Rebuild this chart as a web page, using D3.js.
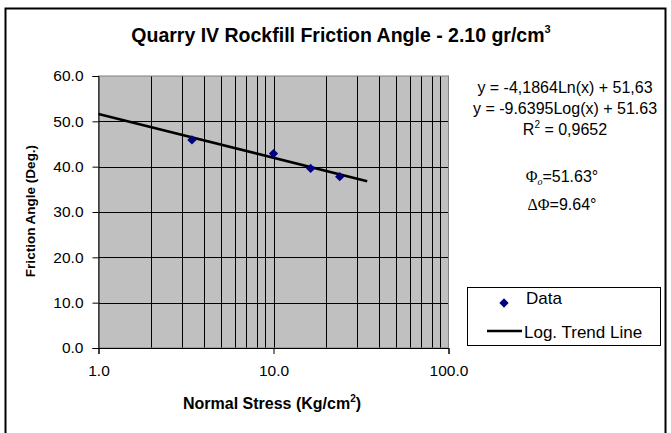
<!DOCTYPE html>
<html>
<head>
<meta charset="utf-8">
<script src="https://cdn.jsdelivr.net/npm/d3@7"></script>
<style>
  body { margin: 0; background: #fff; }
  svg { font-family: Arial, "Liberation Sans", sans-serif; }
</style>
</head>
<body>
<svg width="671" height="433"></svg>
<script>
// data
const stress = [3.42, 10.0, 16.3, 23.9];
const friction = [45.9, 42.9, 39.6, 37.8];
const trendX = [1.0, 34.3];
const trendY = [51.63, 36.8];
const yTicks = [0, 10, 20, 30, 40, 50, 60];
const xTicks = [1, 10, 100];

var svg = d3.select("svg");
const plotL = 98.5, plotR = 448.5, plotT = 76, plotB = 348;

var x = d3.scaleLog().domain([1, 100]).range([plotL, plotR]);
var y = d3.scaleLinear().domain([0, 60]).range([plotB, plotT]);

// outer frame (bottom edge off the picture)
svg.append("rect")
    .attr("x", 5.5).attr("y", 8.5).attr("width", 660).attr("height", 440)
    .attr("fill", "#fff").attr("stroke", "#000").attr("stroke-width", 2);

svg.append("rect")
    .attr("x", plotL).attr("y", plotT)
    .attr("width", plotR - plotL).attr("height", plotB - plotT)
    .attr("fill", "#c0c0c0");

// vertical grid at every decade step
var vgrid = [];
[1, 10].forEach(function(d) {
    for (let k = 2; k <= 9; k++) vgrid.push(d * k);
});
vgrid.push(10);
svg.append("g").selectAll("line")
    .data(vgrid)
    .enter().append("line")
    .attr("x1", function(d) { return Math.round(x(d)) + 0.5; })
    .attr("x2", function(d) { return Math.round(x(d)) + 0.5; })
    .attr("y1", plotT).attr("y2", plotB)
    .attr("stroke", "#000").attr("stroke-width", 1);

svg.append("g").selectAll("line")
    .data(yTicks.filter(function(d) { return d > 0 && d < 60; }))
    .enter().append("line")
    .attr("x1", plotL).attr("x2", plotR)
    .attr("y1", function(d) { return Math.round(y(d)) + 0.5; })
    .attr("y2", function(d) { return Math.round(y(d)) + 0.5; })
    .attr("stroke", "#000").attr("stroke-width", 1);

svg.append("rect")
    .attr("x", plotL).attr("y", plotT)
    .attr("width", plotR - plotL).attr("height", plotB - plotT)
    .attr("fill", "none").attr("stroke", "#808080").attr("stroke-width", 1);

// axes
var yAxis = svg.append("g")
    .attr("transform", "translate(" + plotL + ",0)")
    .call(d3.axisLeft(y).tickValues(yTicks).tickSize(6).tickFormat(d3.format(".1f")));
var xAxis = svg.append("g")
    .attr("transform", "translate(0," + plotB + ")")
    .call(d3.axisBottom(x).tickValues(xTicks).tickSize(6).tickFormat(d3.format(".1f")));
[yAxis, xAxis].forEach(function(a) {
    a.select(".domain").attr("stroke", "#000");
    a.selectAll(".tick line").attr("stroke", "#000");
    a.selectAll("text").attr("font-size", 15.5).attr("fill", "#000")
        .attr("font-family", "Arial, 'Liberation Sans', sans-serif");
});
yAxis.selectAll("text").attr("x", -15);
xAxis.selectAll("text").attr("y", 17);

// trend line
var line = d3.line()
    .x(function(d) { return x(d[0]); })
    .y(function(d) { return y(d[1]); });
svg.append("path")
    .datum(d3.zip(trendX, trendY))
    .attr("d", line)
    .attr("fill", "none").attr("stroke", "#000").attr("stroke-width", 2.5);

// data points
var diamond = d3.symbol().type(d3.symbolDiamond2).size(55);
svg.append("g").selectAll("path")
    .data(d3.zip(stress, friction))
    .enter().append("path")
    .attr("d", diamond)
    .attr("transform", function(d) { return "translate(" + x(d[0]) + "," + y(d[1]) + ")"; })
    .attr("fill", "#000080");

// title
var title = svg.append("text")
    .attr("x", 341).attr("y", 42)
    .attr("text-anchor", "middle")
    .attr("font-size", 19.5).attr("font-weight", "bold")
    .text("Quarry IV Rockfill Friction Angle - 2.10 gr/cm");
title.append("tspan").attr("font-size", 11).attr("dy", -9).text("3");

svg.append("text")
    .attr("transform", "translate(35,211) rotate(-90)")
    .attr("text-anchor", "middle")
    .attr("font-size", 13.5).attr("font-weight", "bold")
    .text("Friction Angle (Deg.)");

var xt = svg.append("text")
    .attr("x", 272).attr("y", 409)
    .attr("text-anchor", "middle")
    .attr("font-size", 16).attr("font-weight", "bold")
    .text("Normal Stress (Kg/cm");
xt.append("tspan").attr("font-size", 10).attr("dy", -7).text("2");
xt.append("tspan").attr("dy", 7).text(")");

// equation block
var eq = svg.append("g").attr("font-size", 16).attr("text-anchor", "middle");
eq.append("text").attr("x", 565).attr("y", 93).text("y = -4,1864Ln(x) + 51,63");
eq.append("text").attr("x", 565).attr("y", 114).text("y = -9.6395Log(x) + 51.63");
var r2 = eq.append("text").attr("x", 565).attr("y", 135).text("R");
r2.append("tspan").attr("font-size", 10).attr("dy", -7).text("2");
r2.append("tspan").attr("dy", 7).text(" = 0,9652");

var p1 = eq.append("text").attr("x", 562).attr("y", 182);
p1.append("tspan").attr("font-family", "'Liberation Serif', 'DejaVu Serif', serif").text("Φ");
p1.append("tspan").attr("font-family", "'Liberation Serif', serif").attr("font-style", "italic")
    .attr("font-size", 10).attr("dy", 3).text("o");
p1.append("tspan").attr("dy", -3).text("=51.63°");
var p2 = eq.append("text").attr("x", 562).attr("y", 210);
p2.append("tspan").attr("font-family", "'Liberation Serif', 'DejaVu Serif', serif").text("ΔΦ");
p2.append("tspan").text("=9.64°");

// legend
var lg = svg.append("g");
lg.append("rect")
    .attr("x", 467.5).attr("y", 287.5).attr("width", 193).attr("height", 58)
    .attr("fill", "#fff").attr("stroke", "#000");
lg.append("path")
    .attr("d", diamond)
    .attr("transform", "translate(504,303)")
    .attr("fill", "#000080");
lg.append("text").attr("x", 526).attr("y", 304).attr("font-size", 17).text("Data");
lg.append("line")
    .attr("x1", 487).attr("x2", 522).attr("y1", 331).attr("y2", 331)
    .attr("stroke", "#000").attr("stroke-width", 2.5);
lg.append("text").attr("x", 524).attr("y", 338).attr("font-size", 17).text("Log. Trend Line");
</script>
</body>
</html>
